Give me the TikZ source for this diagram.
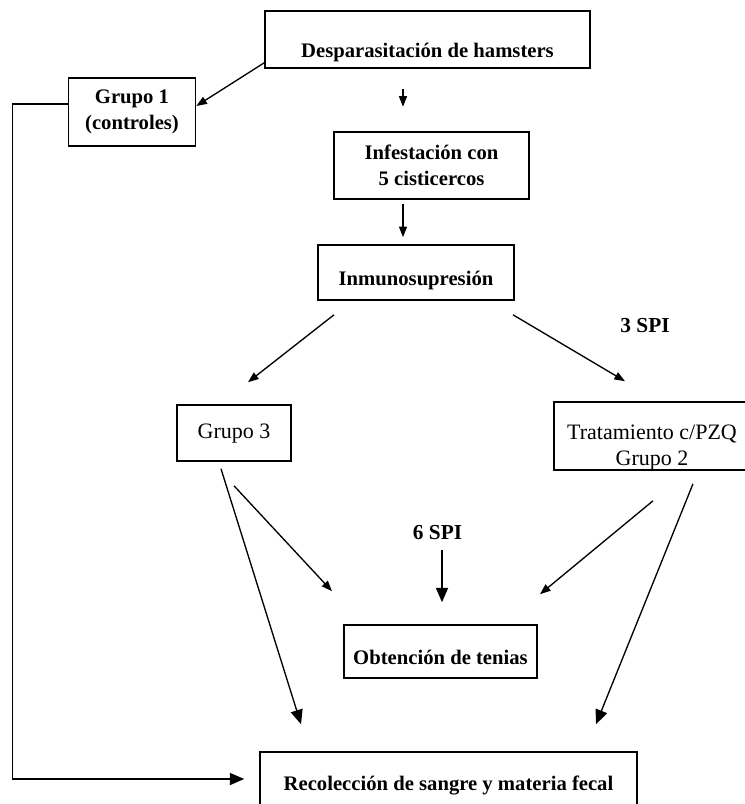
\documentclass[tikz,border=0pt]{standalone}
\usepackage{fontspec}
\setmainfont{Liberation Serif}
\usetikzlibrary{arrows.meta,calc}

\begin{document}
\begin{tikzpicture}[x=0.75pt, y=-0.75pt,
    stepbox/.style={draw, line width=1.2pt, inner sep=0pt, align=center, font=\fontsize{16.5}{19.5}\selectfont},
    boldbox/.style={stepbox, font=\fontsize{15.5}{19.5}\selectfont\bfseries},
    spilabel/.style={font=\fontsize{16}{19}\selectfont\bfseries, inner sep=1pt},
    arrow/.style={-{Triangle[length=2.8mm,width=2.1mm]}, line width=1pt},
    bigarrow/.style={-{Triangle[length=3.8mm,width=3.2mm]}, line width=1pt}
  ]
    \useasboundingbox (0,0) rectangle (744,804);
    \node[boldbox, minimum width=243.75pt, text height=34.5pt, text depth=8.25pt] (desp) at (427.5,39.5) {Desparasitación de hamsters};
    \node[boldbox, minimum width=95.25pt, minimum height=51pt] (g1) at (132,112) {Grupo 1\\(controles)};
    \node[boldbox, minimum width=146.25pt, minimum height=50.25pt] (infest) at (431.5,165.5) {Infestación con\\5 cisticercos};
    \node[boldbox, minimum width=147pt, text height=30pt, text depth=11.25pt] (inmuno) at (416,272.5) {Inmunosupresión};
    \node[stepbox, minimum width=85.5pt, text height=24.75pt, text depth=17.25pt] (g3) at (234,433) {Grupo 3};
    \node[stepbox, minimum width=147pt, minimum height=51pt] (trat) at (652,436) {\rule{0pt}{28pt}Tratamiento c/PZQ\\Grupo 2};
    \node[boldbox, minimum width=144.75pt, text height=29.25pt, text depth=10.5pt] (obt) at (440.5,651.5) {Obtención de tenias};
    \node[boldbox, minimum width=282.75pt, text height=28.5pt, text depth=16.5pt] (recol) at (448.5,782) {Recolección de sangre y materia fecal};
    \node[spilabel] (spi3) at (645,326) {3 SPI};
    \node[spilabel] (spi6) at (437.5,533) {6 SPI};

    \draw[arrow] ($(desp.south west)+(0,-6)$) -- ($(g1.east)+(0,-6)$);
    \draw[arrow] ($(desp.south)+(-24.5,20)$) -- ($(desp.south)+(-24.5,38)$);
    \draw[arrow] ($(infest.south)+(-28.5,4)$) -- ($(inmuno.north)+(-13,-7)$);
    \draw[arrow] ($(inmuno.south)+(-82,14)$) -- ($(g3.north)+(14,-22)$);
    \draw[arrow] ($(inmuno.south)+(97,14)$) -- ($(trat.north)+(-27,-20)$);
    \draw[arrow] ($(g3.south)+(0,24)$) -- ($(obt.north)+(-108.5,-33)$);
    \draw[arrow] ($(trat.south)+(1,30)$) -- ($(obt.north)+(99.5,-30)$);
    \draw[bigarrow] ($(spi6.south)+(4.5,8.5)$) -- ($(obt.north)+(1.5,-22)$);
    \draw[bigarrow] ($(g3.south)+(-13,7)$) -- ($(recol.north)+(-147.5,-27)$);
    \draw[bigarrow] ($(trat.south)+(41,13)$) -- ($(recol.north)+(147.5,-27)$);
    \draw[bigarrow] ($(g1.west)+(0,-8)$) -- ++(-55,0) |- ($(recol.west)+(-15,-3)$);
  \end{tikzpicture}
\end{document}
